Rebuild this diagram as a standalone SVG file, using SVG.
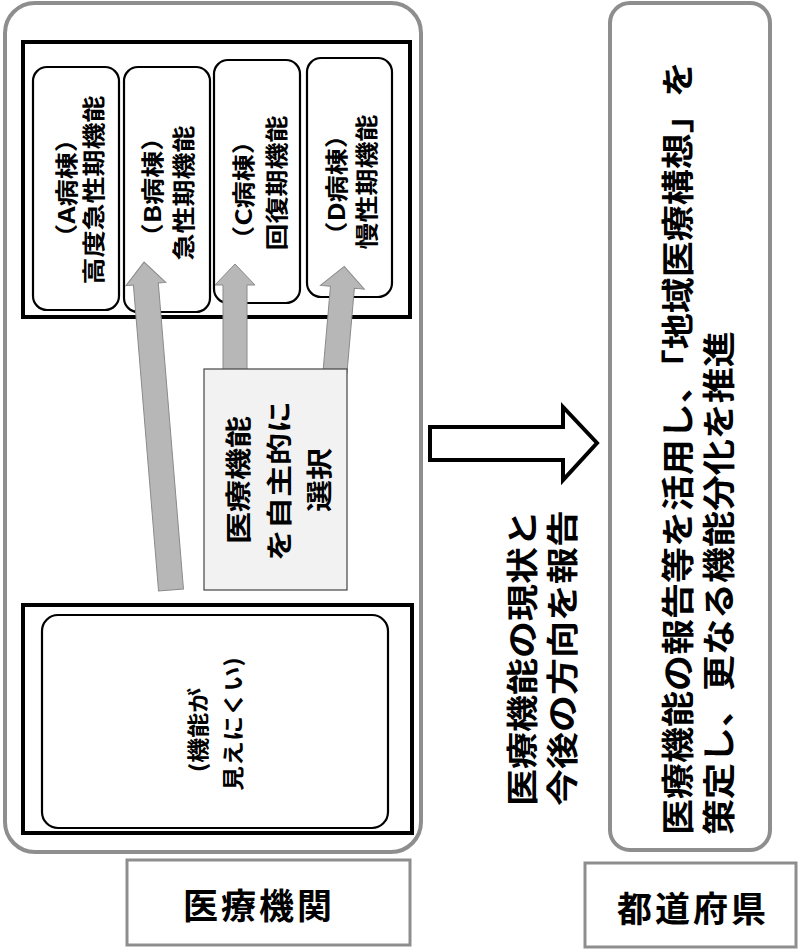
<svg xmlns="http://www.w3.org/2000/svg" xml:lang="ja" lang="ja" width="798" height="949" viewBox="0 0 798 949">
<style>
  text { font-family: 'Noto Sans CJK JP', 'Noto Sans', sans-serif; fill: #000; font-weight: 700; }
  .gray { fill: #fff; stroke: #8e8e8e; stroke-width: 4; }
  .lbl { fill: #fff; stroke: #8e8e8e; stroke-width: 3; }
  .blk { fill: #fff; stroke: #000; stroke-width: 4; }
  .rnd { fill: #fff; stroke: #000; stroke-width: 2.2; }
  .sel { fill: #f2f2f2; stroke: #444; stroke-width: 1.2; }
  .garrow { fill: #b7b7b7; stroke: #8a8a8a; stroke-width: 1; }
  .oarrow { fill: #fff; stroke: #000; stroke-width: 4; stroke-linejoin: miter; }
  .c { text-anchor: middle; dominant-baseline: central; }
  .s { text-anchor: start; dominant-baseline: central; }
</style>

<g id="iryokikan-panel">
  <rect class="gray" x="5" y="3" width="416" height="849" rx="30" ry="30"/>
</g>

<g id="ward-frame">
  <rect class="blk" x="23" y="42" width="387" height="275"/>
</g>

<g id="ward-A">
  <rect class="rnd" x="33" y="67" width="86" height="243" rx="14" ry="14"/>
  <text class="c" font-size="27" transform="translate(65,188) rotate(-90) scale(1,0.85)">（A病棟）</text>
  <text class="c" font-size="27" transform="translate(92,190) rotate(-90) scale(1,0.85)">高度急性期機能</text>
</g>

<g id="ward-B">
  <rect class="rnd" x="124" y="67" width="86" height="245" rx="14" ry="14"/>
  <text class="c" font-size="27" transform="translate(151,187) rotate(-90) scale(1,0.85)">（B病棟）</text>
  <text class="c" font-size="27" transform="translate(182,193) rotate(-90) scale(1,0.85)">急性期機能</text>
</g>

<g id="ward-C">
  <rect class="rnd" x="214" y="60" width="86" height="243" rx="14" ry="14"/>
  <text class="c" font-size="27" transform="translate(242,190) rotate(-90) scale(1,0.85)">（C病棟）</text>
  <text class="c" font-size="27" transform="translate(275,183) rotate(-90) scale(1,0.85)">回復期機能</text>
</g>

<g id="ward-D">
  <rect class="rnd" x="307" y="58" width="85" height="239" rx="14" ry="14"/>
  <text class="c" font-size="27" transform="translate(335,185) rotate(-90) scale(1,0.85)">（D病棟）</text>
  <text class="c" font-size="27" transform="translate(365,182) rotate(-90) scale(1,0.85)">慢性期機能</text>
</g>

<g id="unclear-frame">
  <rect class="blk" x="23" y="605" width="389" height="228"/>
  <rect class="rnd" x="42" y="615" width="346" height="213" rx="16" ry="16"/>
  <text class="c" font-size="25" transform="translate(197,730) rotate(-90) scale(1,0.85)">(機能が</text>
  <text class="c" font-size="25" transform="translate(232,724) rotate(-90) scale(1,0.85)">見えにくい)</text>
</g>

<g id="connectors">
  <polygon class="garrow" transform="translate(171,590) rotate(-4.7)" points="-12.5,0 -12.5,-307 -20,-307 0,-329 20,-307 12.5,-307 12.5,0"/>
  <polygon class="garrow" transform="translate(235,372)" points="-12,0 -12,-87 -20,-87 0,-108 20,-87 12,-87 12,0"/>
  <polygon class="garrow" transform="translate(335,372) rotate(5)" points="-12,0 -12,-85 -22,-85 0,-106 22,-85 12,-85 12,0"/>
  <polygon class="oarrow" points="430,427 563,427 563,407 597,443 563,480 563,460 430,460"/>
</g>

<g id="select-label">
  <rect class="sel" x="204" y="369" width="143" height="221"/>
  <text class="c" font-size="32" transform="translate(236,480) rotate(-90) scale(1,0.82)">医療機能</text>
  <text class="c" font-size="32" transform="translate(277,481) rotate(-90) scale(1,0.82)">を自主的に</text>
  <text class="c" font-size="32" transform="translate(317,480) rotate(-90) scale(1,0.82)">選択</text>
</g>

<g id="report-label">
  <text class="s" font-size="37" transform="translate(520,806) rotate(-90) scale(1,0.85)">医療機能の現状と</text>
  <text class="s" font-size="37" transform="translate(560,806) rotate(-90) scale(1,0.85)">今後の方向を報告</text>
</g>

<g id="prefecture-panel">
  <rect class="gray" x="610" y="3" width="160" height="847" rx="20" ry="20"/>
  <text class="s" font-size="36" transform="translate(676,835) rotate(-90) scale(1,0.9)">医療機能の報告等を活用し、「地域医療構想」を</text>
  <text class="s" font-size="36" transform="translate(717,835) rotate(-90) scale(1,0.9)">策定し、更なる機能分化を推進</text>
</g>

<g id="label-iryokikan">
  <rect class="lbl" x="127" y="860" width="283" height="85"/>
  <text font-size="35" text-anchor="middle" dominant-baseline="central" letter-spacing="3" x="259" y="903">医療機関</text>
</g>

<g id="label-todofuken">
  <rect class="lbl" x="585" y="863" width="211" height="84"/>
  <text font-size="35" text-anchor="middle" dominant-baseline="central" letter-spacing="3" x="693" y="906">都道府県</text>
</g>
</svg>
